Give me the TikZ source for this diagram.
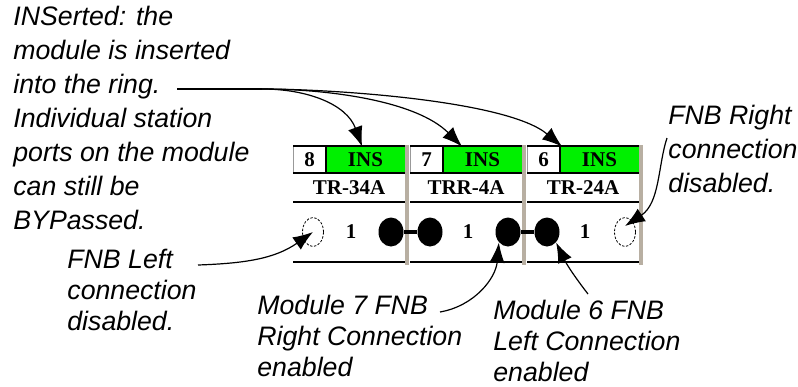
\documentclass[tikz,border=0pt]{standalone}
\usepackage{fontspec}
\newfontfamily\labelfont{Liberation Sans}
\newfontfamily\panelfont{Liberation Serif}
\usetikzlibrary{arrows.meta,shapes.geometric,calc}
\definecolor{insgreen}{RGB}{0,240,0}
\definecolor{sepgray}{RGB}{184,175,162}

\begin{document}
\begin{tikzpicture}[x=0.5pt, y=0.5pt]
    \tikzset{
      callout/.style={font=\labelfont\itshape\fontsize{13.35}{17}\selectfont, align=left, anchor=north west, inner sep=0pt},
      lownote/.style={font=\labelfont\itshape\fontsize{13.35}{15.4}\selectfont},
      pointer/.style={line width=0.6pt, -{Latex[length=10pt,width=7.5pt]}},
      panel/.style={font=\panelfont\bfseries\fontsize{10.5}{12}\selectfont, inner sep=0pt},
      numcell/.style={panel, fill=white, minimum width=16.5pt, minimum height=12.5pt},
      inscell/.style={panel, fill=insgreen, minimum width=39pt, minimum height=12.5pt},
      porton/.style={ellipse, fill=black, minimum width=12.5pt, minimum height=14.5pt, inner sep=0pt},
      portoff/.style={ellipse, draw, line width=0.4pt, dash pattern=on 1.2pt off 0.8pt, minimum width=10.5pt, minimum height=14.5pt, inner sep=0pt},
    }
    \useasboundingbox (0,0) rectangle (798,-386);
    % ===== module panels =====
    \foreach \n/\name/\lp/\rp [count=\i from 0] in {8/TR-34A/portoff/porton, 7/TRR-4A/porton/porton, 6/TR-24A/porton/portoff}{
      \begin{scope}[shift={(293+117*\i,0)}]
        \fill[sepgray] (112,-145) rectangle (116,-265);
        \node[numcell] (num\n) at (16.5,-159.5) {\n};
        \node[inscell] (ins\n) at (72.5,-159.5) {INS};
        \draw[line width=1pt] (0,-146) -- (112,-146);
        \draw[line width=1pt] (0,-172.5) -- (112,-172.5);
        \draw[line width=1.2pt] (33,-147) -- (33,-172);
        \draw[black!40, line width=0.5pt] (0.5,-147) -- (0.5,-172);
        \node[panel] (name\n) at (56,-188) {\name};
        \draw[line width=0.6pt] (0,-202) -- (112,-202);
        \node[\lp] (pl\n) at (20,-232) {};
        \node[panel] (one\n) at (58,-232) {1};
        \node[\rp] (pr\n) at (98,-232) {};
        \draw[line width=0.8pt] (0,-262) -- (112,-262);
      \end{scope}
    }
    \draw[line width=2.2pt] (pr8) -- (pl7);
    \draw[line width=2.2pt] (pr7) -- (pl6);
    % ===== callouts =====
    \node[callout] (insnote) at (13,-6) {INSerted: the\\module is inserted\\into the ring.\\Individual station\\ports on the module\\can still be\\BYPassed.};
    \node[callout] (rightnote) at (668,-105) {FNB Right\\connection\\disabled.};
    \node[callout, lownote] (leftnote) at (67,-249) {FNB Left\\connection\\disabled.};
    \node[callout, lownote] (mod7note) at (257,-295) {Module 7 FNB\\Right Connection\\enabled};
    \node[callout, lownote] (mod6note) at (493,-300) {Module 6 FNB\\Left Connection\\enabled};
    % ===== pointers =====
    \coordinate (ringend) at (177,-89);
    \coordinate (fan) at (262,-89);
    \draw[line width=0.6pt] (ringend) -- (fan);
    \draw[pointer] (fan) to[out=0,in=110] ($(ins8.north west)+(36,0)$);
    \draw[pointer] (fan) to[out=0,in=135,looseness=0.8] ($(ins7.north west)+(19,0)$);
    \draw[pointer] (fan) to[out=0,in=140,looseness=0.6] ($(ins6.north west)+(2,0)$);
    \coordinate (leftstart) at (198,-265);
    \draw[pointer] (leftstart) to[out=2,in=215] (pl8.center);
    \coordinate (mod7start) at (440,-312);
    \draw[pointer] (mod7start) to[out=10,in=265] (pr7.south west);
    \coordinate (mod6start) at (588,-294);
    \draw[pointer] (mod6start) to[bend left=6] (pl6.south east);
    \coordinate (rightstart) at (667,-138);
    \draw[pointer] (rightstart) .. controls (658,-165) and (660,-203) .. ([yshift=3pt]pr6.center);
\end{tikzpicture}
\end{document}
